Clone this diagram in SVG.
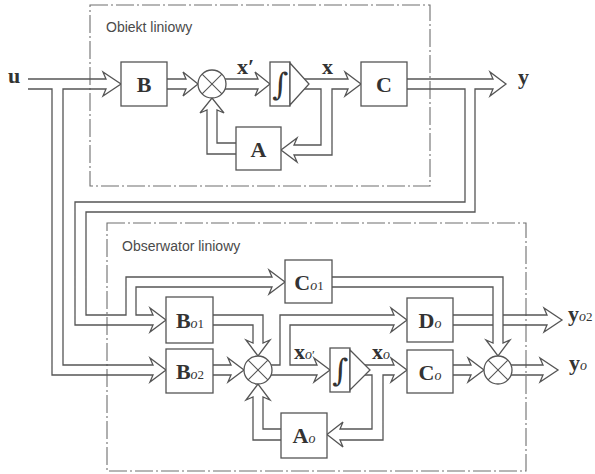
<svg xmlns="http://www.w3.org/2000/svg" width="595" height="474" viewBox="0 0 595 474">
<style>
.bg{fill:#ffffff}
.frame{fill:none;stroke:#6e6e6e;stroke-width:1.1;stroke-dasharray:18 3 2 3}
.blk{fill:#ffffff;stroke:#555;stroke-width:1.3}
.sum{fill:#ffffff;stroke:#555;stroke-width:1.3}
.x{stroke:#555;stroke-width:1.1}
.ttl{font-family:"Liberation Sans",Arial,sans-serif;font-size:14px;fill:#4a4a4a}
.m{font-family:"Liberation Serif","Times New Roman",serif;font-weight:bold;font-size:22px;fill:#333}
.s{font-family:"Liberation Serif","Times New Roman",serif;font-style:italic;font-weight:normal;font-size:14px;fill:#333}
.d{font-family:"Liberation Serif","Times New Roman",serif;font-weight:normal;font-size:13px;fill:#333}
.int{font-family:"DejaVu Serif","Liberation Serif",serif;font-size:31px;fill:#333}
#connectors path{fill:none;stroke:#555;stroke-width:1.3;stroke-linejoin:miter}
</style>
<rect class="bg" x="0" y="0" width="595" height="474"/>

<g id="obiekt-frame">
<rect class="frame" x="90" y="5" width="340" height="181"/>
<text class="ttl" x="106" y="32">Obiekt liniowy</text>
</g>
<g id="obserwator-frame">
<rect class="frame" x="107" y="223" width="419" height="248"/>
<text class="ttl" x="122" y="251">Obserwator liniowy</text>
</g>

<g id="connectors">
<path d="M28,79 H106 L103,72 L121,84 L103,96 L106,89 H63 V365 H153 L150,358 L166,370 L150,382 L153,375 H52 V89 H28"/>
<path d="M167,79 H186 L183,72 L198,84 L183,96 L186,89 H167"/>
<path d="M225,79 H258 L255,72 L270,84 L255,96 L258,89 H225"/>
<path d="M304,79 H348 L345,72 L361,84 L345,96 L348,89 H332 V155 H294 L297,162 L281,150 L297,138 L294,145 H321 V89 H304"/>
<path d="M236,143 H217 V110 L224,113 L212,98 L200,113 L207,110 V154 H236"/>
<path d="M407,79 H493 L490,72 L506,84 L490,96 L493,89 H475 V212 H86 V315 H126 V277 H272 L269,270 L285,282 L269,294 L272,287 H136 V315 H153 L150,308 L166,320 L150,332 L153,325 H75 V202 H465 V89 H407"/>
<path d="M213,315 H263 V343 L270,340 L258,356 L246,340 L253,343 V325 H213"/>
<path d="M213,365 H231 L228,358 L244,370 L228,382 L231,375 H213"/>
<path d="M281,429 H263 V397 L270,400 L258,384 L246,400 L253,397 V440 H281"/>
<path d="M271,365 H280 V315 H394 L391,308 L407,320 L391,332 L394,325 H290 V365 H317 L314,358 L330,370 L314,382 L317,375 H271"/>
<path d="M365,365 H394 L391,358 L407,370 L391,382 L394,375 H383 V440 H340 L343,447 L327,434.5 L343,422 L340,429 H372 V375 H365"/>
<path d="M453,365 H471 L468,358 L484,370 L468,382 L471,375 H453"/>
<path d="M332,277 H503 V343 L510,340 L498,356 L486,340 L493,343 V287 H332"/>
<path d="M453,315 H493 M453,325 H493"/>
<path d="M503,315 H547 L544,308 L562,320 L544,332 L547,325 H503"/>
<path d="M511,365 H543 L540,358 L558,370 L540,382 L543,375 H511"/>
</g>

<g id="B">
<rect class="blk" x="121" y="62" width="46" height="44"/>
<text class="m" x="144" y="92" text-anchor="middle">B</text>
</g>
<g id="sum1">
<circle class="sum" cx="212" cy="84" r="14"/>
<line class="x" x1="202.1" y1="74.1" x2="221.9" y2="93.9"/>
<line class="x" x1="221.9" y1="74.1" x2="202.1" y2="93.9"/>
</g>
<g id="integrator">
<rect class="blk" x="270" y="62" width="20" height="44"/>
<polygon class="blk" points="290,63 309,84 290,105"/>
<text class="int" x="280" y="95" text-anchor="middle">∫</text>
</g>
<g id="C">
<rect class="blk" x="361" y="62" width="46" height="44"/>
<text class="m" x="384" y="92" text-anchor="middle">C</text>
</g>
<g id="A">
<rect class="blk" x="236" y="127" width="45" height="43"/>
<text class="m" x="258.5" y="157" text-anchor="middle">A</text>
</g>

<g id="Bo1">
<rect class="blk" x="166" y="297" width="47" height="46"/>
<text x="190" y="328" text-anchor="middle"><tspan class="m">B</tspan><tspan class="s">o</tspan><tspan class="d">1</tspan></text>
</g>
<g id="Bo2">
<rect class="blk" x="166" y="349" width="47" height="44"/>
<text x="190" y="379" text-anchor="middle"><tspan class="m">B</tspan><tspan class="s">o</tspan><tspan class="d">2</tspan></text>
</g>
<g id="Co1">
<rect class="blk" x="285" y="260" width="47" height="43"/>
<text x="309" y="290" text-anchor="middle"><tspan class="m">C</tspan><tspan class="s">o</tspan><tspan class="d">1</tspan></text>
</g>
<g id="sum2">
<circle class="sum" cx="258" cy="370" r="14"/>
<line class="x" x1="248.1" y1="360.1" x2="267.9" y2="379.9"/>
<line class="x" x1="267.9" y1="360.1" x2="248.1" y2="379.9"/>
</g>
<g id="integrator-o">
<rect class="blk" x="330" y="348" width="20" height="44"/>
<polygon class="blk" points="350,350 370,370 350,390"/>
<text class="int" x="340" y="381" text-anchor="middle">∫</text>
</g>
<g id="Do">
<rect class="blk" x="407" y="298" width="46" height="44"/>
<text x="430" y="328" text-anchor="middle"><tspan class="m">D</tspan><tspan class="s">o</tspan></text>
</g>
<g id="Co">
<rect class="blk" x="407" y="350" width="46" height="43"/>
<text x="430" y="380" text-anchor="middle"><tspan class="m">C</tspan><tspan class="s">o</tspan></text>
</g>
<g id="Ao">
<rect class="blk" x="281" y="413" width="46" height="45"/>
<text x="304" y="443" text-anchor="middle"><tspan class="m">A</tspan><tspan class="s">o</tspan></text>
</g>
<g id="sum3">
<circle class="sum" cx="498" cy="370" r="14"/>
<line class="x" x1="488.1" y1="360.1" x2="507.9" y2="379.9"/>
<line class="x" x1="507.9" y1="360.1" x2="488.1" y2="379.9"/>
</g>

<g id="labels">
<text class="m" x="8" y="83">u</text>
<text x="237" y="74"><tspan class="m">x</tspan><tspan class="m" font-weight="normal">′</tspan></text>
<text class="m" x="322" y="74">x</text>
<text class="m" x="518" y="84">y</text>
<text x="294" y="359"><tspan class="m" font-size="20">x</tspan><tspan class="s">o</tspan><tspan class="d" font-size="16">′</tspan></text>
<text x="372" y="359"><tspan class="m" font-size="20">x</tspan><tspan class="s">o</tspan></text>
<text x="568" y="321"><tspan class="m">y</tspan><tspan class="s">o</tspan><tspan class="d">2</tspan></text>
<text x="569" y="370"><tspan class="m">y</tspan><tspan class="s">o</tspan></text>
</g>
</svg>
